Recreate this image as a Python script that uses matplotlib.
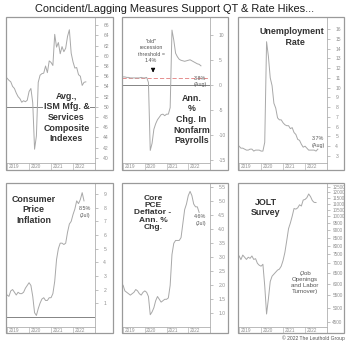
import numpy as np
import matplotlib
matplotlib.use('Agg')
import matplotlib.pyplot as plt
from matplotlib.patches import Rectangle
from matplotlib.ticker import FixedLocator, NullLocator, FormatStrFormatter

W, H = 350, 344

plt.rcParams['font.family'] = ['Liberation Sans', 'DejaVu Sans']
plt.rcParams['axes.unicode_minus'] = False

title = 'Concident/Lagging Measures Support QT & Rate Hikes...'
years = [2019, 2020, 2021, 2022]

# monthly values from Jan 2019
ism = [55.6, 55.2, 54.9, 54.0, 53.6, 52.7, 52.0, 51.6, 50.9, 51.2, 51.0, 51.3,
       53.0, 53.6, 50.8, 41.7, 44.3, 54.8, 56.2, 56.5, 56.6, 58.0, 56.7, 59.0,
       58.7, 58.1, 64.2, 61.7, 62.6, 60.4, 61.8, 60.8, 61.5, 63.8, 65.1, 60.5,
       58.8, 57.6, 57.7, 56.3, 56.0, 54.2, 54.8, 54.9]
payrolls = [1.6, 1.6, 1.5, 1.5, 1.4, 1.4, 1.4, 1.4, 1.4, 1.4, 1.5, 1.4,
            1.4, 1.5, 0.5, -13.0, -11.6, -8.8, -7.7, -6.9, -6.4, -5.9, -5.8, -6.1,
            -5.8, -5.8, -4.5, 10.9, 8.9, 6.3, 5.6, 5.1, 4.9, 4.8, 4.7, 4.8,
            4.9, 5.0, 4.8, 4.6, 4.4, 4.2, 4.1, 3.8]
unemployment = [4.0, 3.8, 3.8, 3.7, 3.6, 3.6, 3.7, 3.7, 3.5, 3.6, 3.6, 3.6,
                3.5, 3.5, 4.4, 14.7, 13.2, 11.0, 10.2, 8.4, 7.9, 6.9, 6.7, 6.7,
                6.4, 6.2, 6.1, 6.1, 5.8, 5.9, 5.4, 5.2, 4.7, 4.6, 4.2, 3.9,
                4.0, 3.8, 3.6, 3.6, 3.6, 3.6, 3.5, 3.7]
cpi = [1.6, 1.5, 1.9, 2.0, 1.8, 1.6, 1.8, 1.7, 1.7, 1.8, 2.1, 2.3,
       2.5, 2.3, 1.5, 0.3, 0.1, 0.6, 1.0, 1.3, 1.4, 1.2, 1.2, 1.4,
       1.4, 1.7, 2.6, 4.2, 5.0, 5.4, 5.4, 5.3, 5.4, 6.2, 6.8, 7.0,
       7.5, 7.9, 8.5, 8.3, 8.6, 9.1, 8.5]
core_pce = [2.0, 1.8, 1.75, 1.7, 1.65, 1.7, 1.75, 1.85, 1.8, 1.7, 1.65, 1.75,
            1.8, 1.75, 1.6, 0.95, 1.05, 1.2, 1.45, 1.6, 1.5, 1.4, 1.45, 1.5,
            1.5, 1.55, 2.0, 3.1, 3.5, 3.6, 3.6, 3.6, 3.7, 4.2, 4.7, 4.9,
            5.2, 5.35, 5.2, 4.9, 4.8, 4.8, 4.6]
jolts = [7400, 7200, 7450, 7330, 7210, 7330, 7270, 7400, 7210, 7250, 7000, 6900,
         6850, 6950, 5900, 4770, 5350, 6100, 6350, 6450, 6550, 6650, 6700, 6850,
         7150, 7600, 8300, 9100, 9500, 10000, 10600, 10550, 10650, 10900, 10800, 11300,
         11350, 11500, 11830, 11600, 11250, 11100, 11090]

LINE = '#a8a8a8'
FRAME = '#9a9a9a'
TICK = '#909090'


def months(values):
    return 2019 + np.arange(len(values)) / 12


def fx(px):
    return px / W


def fy(py):
    return 1 - py / H


def make_panel(fig, cols, rows, ylim, ticks, fmt='%d', log=False, pad=3.8, labelsize=3.6):
    left, right, outer = cols
    top, strip, bottom = rows
    fig.add_artist(Rectangle((fx(left), fy(bottom)), fx(outer) - fx(left), fy(top) - fy(bottom),
                             transform=fig.transFigure, fill=False, edgecolor=FRAME, linewidth=0.9))
    ax = fig.add_axes([fx(left), fy(strip), fx(right) - fx(left), fy(top) - fy(strip)])
    for s in ['left', 'top', 'bottom']:
        ax.spines[s].set_visible(False)
    ax.spines['right'].set_color('#b0b0b0')
    ax.spines['right'].set_linewidth(0.6)
    if log:
        ax.set_yscale('log')
    ax.set_xlim(2018.95, 2023.0)
    ax.set_ylim(*ylim)
    ax.set_xticks([])
    ax.yaxis.tick_right()
    ax.yaxis.set_major_locator(FixedLocator(ticks))
    ax.yaxis.set_minor_locator(NullLocator())
    ax.yaxis.set_major_formatter(FormatStrFormatter(fmt))
    ax.tick_params(axis='y', length=2.2, width=0.4, color=TICK, pad=pad, labelsize=labelsize, labelcolor=TICK)

    sx = fig.add_axes([fx(left), fy(bottom), fx(right) - fx(left), fy(strip) - fy(bottom)])
    sx.set_xlim(2018.95, 2023.0)
    sx.set_ylim(0, 1)
    sx.set_xticks([])
    sx.set_yticks([])
    for s in ['left', 'bottom']:
        sx.spines[s].set_visible(False)
    for s in ['top', 'right']:
        sx.spines[s].set_color('#b0b0b0')
        sx.spines[s].set_linewidth(0.6)
    for y in years:
        sx.axvline(y, color='#b8b8b8', linewidth=0.5)
        sx.text(y + 0.06, 0.45, str(y), fontsize=3.4, color=TICK, va='center', ha='left')
    return ax


fig = plt.figure(figsize=(W / 100, H / 100), dpi=100)
fig.text(0.5, fy(8.5), title, ha='center', va='center', fontsize=7.9, color='#1a1a1a')

col1 = (6, 95, 113)
col2 = (122, 210, 228)
col3 = (238, 327, 344)
row1 = (17, 163, 170)
row2 = (183, 326.5, 333)

# ISM
ax = make_panel(fig, col1, row1, (39.0, 67.6), list(range(40, 67, 2)))
ax.axhline(50, color='#707070', linewidth=0.6)
ax.plot(months(ism), ism, color=LINE, linewidth=0.7)
fig.text(fx(66.5), fy(117.5), 'Avg.,\nISM Mfg. &\nServices\nComposite\nIndexes', ha='center', va='center',
         fontsize=6.4, fontweight='bold', color='#333333', linespacing=1.22,
         bbox=dict(facecolor='white', edgecolor='none', pad=0.3))

# payrolls
ax = make_panel(fig, col2, row1, (-15.5, 13.5), [-15, -10, -5, 0, 5, 10])
ax.axhline(0, color='#707070', linewidth=0.6)
ax.axhline(1.4, color='#e27c7c', linewidth=0.6, dashes=(5, 2.5))
ax.plot(months(payrolls), payrolls, color=LINE, linewidth=0.7)
fig.text(fx(151), fy(51), '"old"\nrecession\nthreshold =\n1.4%', ha='center', va='center',
         fontsize=3.9, color='#555555', linespacing=1.3)
ax.annotate('', xy=(2020.38, 1.9), xytext=(2020.38, 3.4),
            arrowprops=dict(arrowstyle='-|>,head_width=0.12,head_length=0.25', color='black', linewidth=0.6))
fig.text(fx(206.5), fy(81.5), '3.8%\n(Aug)', ha='right', va='center', fontsize=3.9, color='#555555',
         linespacing=1.3)
fig.text(fx(191.5), fy(119.5), 'Ann.\n%\nChg. In\nNonfarm\nPayrolls', ha='center', va='center',
         fontsize=6.4, fontweight='bold', color='#333333', linespacing=1.22)

# unemployment
ax = make_panel(fig, col3, row1, (2.28, 17.23), list(range(3, 17)))
ax.plot(months(unemployment), unemployment, color=LINE, linewidth=0.7)
fig.text(fx(291.5), fy(37), 'Unemployment\n   Rate', ha='center', va='center',
         fontsize=6.4, fontweight='bold', color='#333333', linespacing=1.22)
fig.text(fx(324.5), fy(142), '3.7%\n(Aug)', ha='right', va='center', fontsize=3.9, color='#555555',
         linespacing=1.3)

# CPI
ax = make_panel(fig, col1, row2, (-0.71, 9.81), list(range(1, 10)))
ax.axhline(0, color='#707070', linewidth=0.6)
ax.plot(months(cpi), cpi, color=LINE, linewidth=0.7)
fig.text(fx(33.5), fy(210), 'Consumer\nPrice\nInflation', ha='center', va='center',
         fontsize=6.4, fontweight='bold', color='#333333', linespacing=1.22)
fig.text(fx(84.5), fy(212), '8.5%\n(Jul)', ha='center', va='center', fontsize=3.9, color='#555555',
         linespacing=1.3)

# core PCE
ax = make_panel(fig, col2, row2, (0.53, 5.65), [1.0, 1.5, 2.0, 2.5, 3.0, 3.5, 4.0, 4.5, 5.0, 5.5], fmt='%.1f')
ax.plot(months(core_pce), core_pce, color=LINE, linewidth=0.7)
fig.text(fx(153), fy(213), 'Core\nPCE\nDeflator -\nAnn. %\nChg.', ha='center', va='center',
         fontsize=6.0, fontweight='bold', color='#333333', linespacing=1.05)
fig.text(fx(200.5), fy(220), '4.6%\n(Jul)', ha='center', va='center', fontsize=3.9, color='#555555',
         linespacing=1.3)

# JOLTS
ax = make_panel(fig, col3, row2, (4340, 12855), list(range(4500, 12501, 500)), log=True,
                pad=1.6, labelsize=3.3)
ax.plot(months(jolts), jolts, color=LINE, linewidth=0.7)
fig.text(fx(266), fy(207.5), 'JOLT\nSurvey', ha='center', va='center',
         fontsize=6.4, fontweight='bold', color='#333333', linespacing=1.22)
fig.text(fx(305), fy(282.5), '(Job\nOpenings\nand Labor\nTurnover)', ha='center', va='center',
         fontsize=4.4, color='#555555', linespacing=1.25)

fig.text(fx(345), fy(338.5), '\u00a9 2022 The Leuthold Group', ha='right', va='center', fontsize=3.6,
         color='#555555')

fig.savefig('out.png', dpi=100)
